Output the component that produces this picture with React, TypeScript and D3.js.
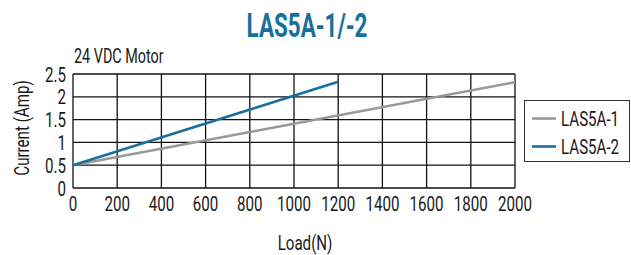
import * as d3 from "d3";
import { useEffect, useRef } from "react";

// chart data
const loads = [0, 1200, 2000];
const las5a1Loads = [0, 2000];
const las5a1 = [0.5, 2.32];
const las5a2Loads = [0, 1200];
const las5a2 = [0.5, 2.33];
const xTicks = [0, 200, 400, 600, 800, 1000, 1200, 1400, 1600, 1800, 2000];
const yTicks = [0, 0.5, 1, 1.5, 2, 2.5];
const seriesNames = ["LAS5A-1", "LAS5A-2"];
const seriesColors = ["#999999", "#16709b"];

const FONT = "Roboto, 'DejaVu Sans', sans-serif";
const SQUEEZE = 0.72; // the original uses a condensed DIN-like face

type Sel = d3.Selection<any, unknown, null, undefined>;

// condensed text: draw at (x,y) then squeeze horizontally
function addText(
  parent: Sel,
  x: number,
  y: number,
  str: string,
  opts: { size?: number; anchor?: string; weight?: string; fill?: string; rotate?: number; sx?: number } = {}
) {
  const rot = opts.rotate ? ` rotate(${opts.rotate})` : "";
  return parent
    .append("text")
    .attr("transform", `translate(${x},${y})${rot} scale(${opts.sx ?? SQUEEZE},1)`)
    .attr("text-anchor", opts.anchor ?? "start")
    .attr("font-size", opts.size ?? 21)
    .attr("font-weight", opts.weight ?? "normal")
    .attr("font-family", FONT)
    .attr("fill", opts.fill ?? "#1a1a1a")
    .text(str);
}

const App = () => {
  const svgRef = useRef<SVGSVGElement | null>(null);

  useEffect(() => {
    if (!svgRef.current) return;
    const width = 631;
    const height = 255;
    const margin = { top: 74, right: 116, bottom: 67, left: 73 };

    const x = d3
      .scaleLinear()
      .domain([0, d3.max(loads) ?? 2000])
      .range([margin.left, width - margin.right]);
    const y = d3
      .scaleLinear()
      .domain([0, 2.5])
      .range([height - margin.bottom, margin.top]);

    const svg = d3.select(svgRef.current);
    svg.selectAll("*").remove();

    // grid
    const grid = svg.append("g").attr("stroke", "#111").attr("stroke-width", 1.3);
    grid
      .selectAll("line.v")
      .data(xTicks)
      .join("line")
      .attr("class", "v")
      .attr("x1", (d) => x(d))
      .attr("x2", (d) => x(d))
      .attr("y1", y(0))
      .attr("y2", y(2.5));
    grid
      .selectAll("line.h")
      .data(yTicks)
      .join("line")
      .attr("class", "h")
      .attr("x1", x(0))
      .attr("x2", x(2000))
      .attr("y1", (d) => y(d))
      .attr("y2", (d) => y(d));

    // series
    const line = d3
      .line<[number, number]>()
      .x((d) => x(d[0]))
      .y((d) => y(d[1]));
    const series: [number, number][][] = [
      las5a1Loads.map((l, i) => [l, las5a1[i]]),
      las5a2Loads.map((l, i) => [l, las5a2[i]]),
    ];
    series.forEach((pts, i) => {
      svg
        .append("path")
        .datum(pts)
        .attr("fill", "none")
        .attr("stroke", seriesColors[i])
        .attr("stroke-width", 2.6)
        .attr("d", line);
    });

    // tick labels
    const xl = svg.append("g");
    xTicks.forEach((t) => addText(xl, x(t), y(0) + 23, String(t), { anchor: "middle" }));
    const yl = svg.append("g");
    yTicks.forEach((t) => addText(yl, x(0) - 7, y(t) + 7.5, String(t), { anchor: "end" }));

    // titles
    addText(svg, 307, 37, "LAS5A-1/-2", { size: 33, weight: "bold", anchor: "middle", fill: "#16709b", sx: 0.68 });
    addText(svg, 74, 63, "24 VDC Motor", { size: 20 });
    addText(svg, 305, 250, "Load(N)", { anchor: "middle" });
    addText(svg, 29, 128, "Current (Amp)", { anchor: "middle", rotate: -90 });

    // legend
    const lg = svg.append("g").attr("transform", "translate(524,100)");
    lg.append("rect")
      .attr("x", 0.5)
      .attr("y", 0.5)
      .attr("width", 105)
      .attr("height", 61)
      .attr("fill", "white")
      .attr("stroke", "#333")
      .attr("stroke-width", 1);
    seriesNames.forEach((name, i) => {
      const cy = 18.5 + i * 28;
      lg.append("line")
        .attr("x1", 8)
        .attr("x2", 32)
        .attr("y1", cy)
        .attr("y2", cy)
        .attr("stroke", seriesColors[i])
        .attr("stroke-width", 2.6);
      addText(lg, 37, cy + 7.5, name);
    });
  }, []);

  return (
    <svg
      ref={svgRef}
      width={631}
      height={255}
      style={{ position: "absolute", left: 0, top: 0, background: "white" }}
    ></svg>
  );
};

export default App;
